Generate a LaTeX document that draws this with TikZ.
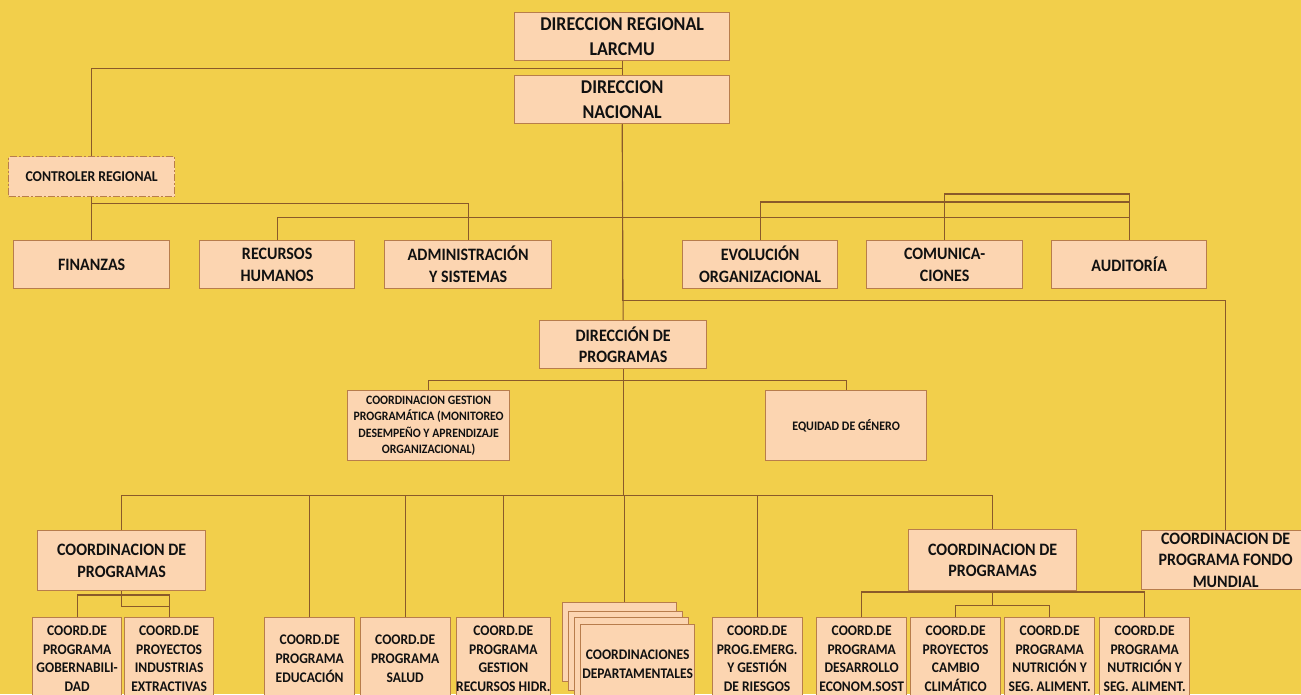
\documentclass[tikz,border=0pt]{standalone}
\usepackage{fontspec}
\setmainfont{Carlito}[FakeStretch=0.92]
\definecolor{bg}{HTML}{F2CF4B}
\definecolor{boxfill}{HTML}{FCD5B1}
\definecolor{boxline}{HTML}{B87D4C}
\definecolor{lineclr}{HTML}{8A5A2A}
\definecolor{txt}{HTML}{111111}
\tikzset{
 box/.style={draw=boxline, fill=boxfill, line width=1.3pt, inner sep=0pt, align=center, text=txt, anchor=north west, font=\bfseries\fontsize{17.4}{22}\selectfont},
 big/.style={font=\bfseries\fontsize{19.5}{24.5}\selectfont},
 mid/.style={font=\bfseries\fontsize{17.4}{21.5}\selectfont},
 small/.style={font=\bfseries\fontsize{14.7}{18.7}\selectfont},
 tiny/.style={font=\bfseries\fontsize{12.8}{16.3}\selectfont},
 eqf/.style={font=\bfseries\fontsize{13}{16}\selectfont},
 ctrl/.style={font=\bfseries\fontsize{15}{16}\selectfont, dash pattern=on 7pt off 2pt on 2pt off 2pt},
 conn/.style={draw=lineclr, line width=1.1pt},
}
\begin{document}
\begin{tikzpicture}[x=1pt,y=-1pt]
\useasboundingbox (0,0) rectangle (1301,694);
\fill[bg] (0,0) rectangle (1301,694);
\clip (0,0) rectangle (1301,694);

% top
\node[box,big,minimum width=215pt,minimum height=48pt] (dr) at (514,12) {DIRECCION REGIONAL\\LARCMU};
\node[box,big,minimum width=215pt,minimum height=48pt] (dn) at (514,75) {DIRECCION\\NACIONAL};
\node[box,ctrl,minimum width=166pt,minimum height=40pt] (cr) at (8,156) {CONTROLER REGIONAL};

% second row
\node[box,minimum width=156pt,minimum height=48pt] (fin) at (13,240) {FINANZAS};
\node[box,minimum width=155pt,minimum height=48pt] (rh) at (199,240) {RECURSOS\\HUMANOS};
\node[box,minimum width=167pt,minimum height=48pt] (adm) at (384,240) {ADMINISTRACIÓN\\Y SISTEMAS};
\node[box,minimum width=155pt,minimum height=48pt] (evo) at (682,240) {EVOLUCIÓN\\ORGANIZACIONAL};
\node[box,minimum width=156pt,minimum height=48pt] (com) at (866,240) {COMUNICA-\\CIONES};
\node[box,minimum width=155pt,minimum height=48pt] (aud) at (1051,240) {AUDITORÍA};

% programas
\node[box,mid,minimum width=167pt,minimum height=48pt] (dp) at (539,320) {DIRECCIÓN DE\\PROGRAMAS};
\node[box,tiny,minimum width=162pt,minimum height=70pt] (cg) at (347,390) {COORDINACION GESTION\\PROGRAMÁTICA (MONITOREO\\DESEMPEÑO Y APRENDIZAJE\\ORGANIZACIONAL)};
\node[box,eqf,minimum width=161pt,minimum height=70pt] (eq) at (765,390) {EQUIDAD DE GÉNERO};

% coordinations
\node[box,mid,minimum width=168pt,minimum height=60pt] (lcp) at (37,530) {COORDINACION DE\\PROGRAMAS};
\node[box,mid,minimum width=168pt,minimum height=61pt] (rcp) at (908,529) {COORDINACION DE\\PROGRAMAS};
\node[box,mid,minimum width=168pt,minimum height=59pt] (fm) at (1141,530) {COORDINACION DE\\PROGRAMA FONDO\\MUNDIAL};

% bottom row
\node[box,small,minimum width=89pt,minimum height=82pt] (gob) at (32,617) {COORD.DE\\PROGRAMA\\GOBERNABILI-\\DAD};
\node[box,small,minimum width=89pt,minimum height=82pt] (ind) at (124,617) {COORD.DE\\PROYECTOS\\INDUSTRIAS\\EXTRACTIVAS};
\node[box,small,minimum width=90pt,minimum height=82pt] (edu) at (264,617) {COORD.DE\\PROGRAMA\\EDUCACIÓN};
\node[box,small,minimum width=90pt,minimum height=82pt] (sal) at (359.5,617) {COORD.DE\\PROGRAMA\\SALUD};
\node[box,small,minimum width=89pt,minimum height=82pt] (hid) at (455.5,617) {COORD.DE\\PROGRAMA\\GESTION\\RECURSOS HIDR.};
\node[box,minimum width=114pt,minimum height=79pt] (cd1) at (562,602) {};
\node[box,minimum width=114pt,minimum height=79pt] (cd2) at (568,611) {};
\node[box,minimum width=114pt,minimum height=79pt] (cd3) at (574,617) {};
\node[box,small,minimum width=114pt,minimum height=79pt] (cd4) at (580,624) {COORDINACIONES\\DEPARTAMENTALES};
\node[box,small,minimum width=90pt,minimum height=82pt] (em) at (711.5,617) {COORD.DE\\PROG.EMERG.\\Y GESTIÓN\\DE RIESGOS};
\node[box,small,minimum width=90pt,minimum height=82pt] (des) at (816,617) {COORD.DE\\PROGRAMA\\DESARROLLO\\ECONOM.SOST};
\node[box,small,minimum width=90pt,minimum height=82pt] (cc) at (910,617) {COORD.DE\\PROYECTOS\\CAMBIO\\CLIMÁTICO};
\node[box,small,minimum width=90pt,minimum height=82pt] (n1) at (1004,617) {COORD.DE\\PROGRAMA\\NUTRICIÓN Y\\SEG. ALIMENT.};
\node[box,small,minimum width=90pt,minimum height=82pt] (n2) at (1099,617) {COORD.DE\\PROGRAMA\\NUTRICIÓN Y\\SEG. ALIMENT.};

% connectors
\draw[conn] (dr.south) -- (dn.north);
\draw[conn] (dr.south) -- ++(0,7) -| (cr.north);
\draw[conn] (cr.south) -- (fin.north);
\draw[conn] (cr.south) -- ++(0,6) -| (adm.north);
\draw[conn] (dn.south) -- (dp.north);
\draw[conn] (dn.south) -- ++(0,93) -| (rh.north);
\draw[conn] (dn.south) -- ++(0,93) -| (aud.north);
\draw[conn] (evo.north) -- ++(0,-38) -| (aud.north);
\draw[conn] (com.north) -- ++(0,-46) -| (aud.north);
\draw[conn] (dn.south) -- ++(0,176) -| (fm.north);
\draw[conn] (dp.south) -- ++(0,11) -| (cg.north);
\draw[conn] (dp.south) -- ++(0,11) -| (eq.north);
\draw[conn] (dp.south) -- ++(0,126) -| (lcp.north);
\draw[conn] (dp.south) -- ++(0,126) -| (edu.north);
\draw[conn] (dp.south) -- ++(0,126) -| (sal.north);
\draw[conn] (dp.south) -- ++(0,126) -| (hid.north);
\draw[conn] (dp.south) -- ++(0,126) -| ([xshift=5pt]cd1.north);
\draw[conn] (dp.south) -- ++(0,126) -| (em.north);
\draw[conn] (dp.south) -- ++(0,126) -| (rcp.north);
\draw[conn] (lcp.south) -- ++(0,15) -| (ind.north);
\draw[conn] (gob.north) -- ++(0,-22) -| (ind.north);
\draw[conn] (des.north) -- ++(0,-25) -| (n2.north);
\draw[conn] (rcp.south) -- ++(0,14) -| (cc.north);
\draw[conn] (rcp.south) -- ++(0,14) -| (n1.north);
\end{tikzpicture}
\end{document}
